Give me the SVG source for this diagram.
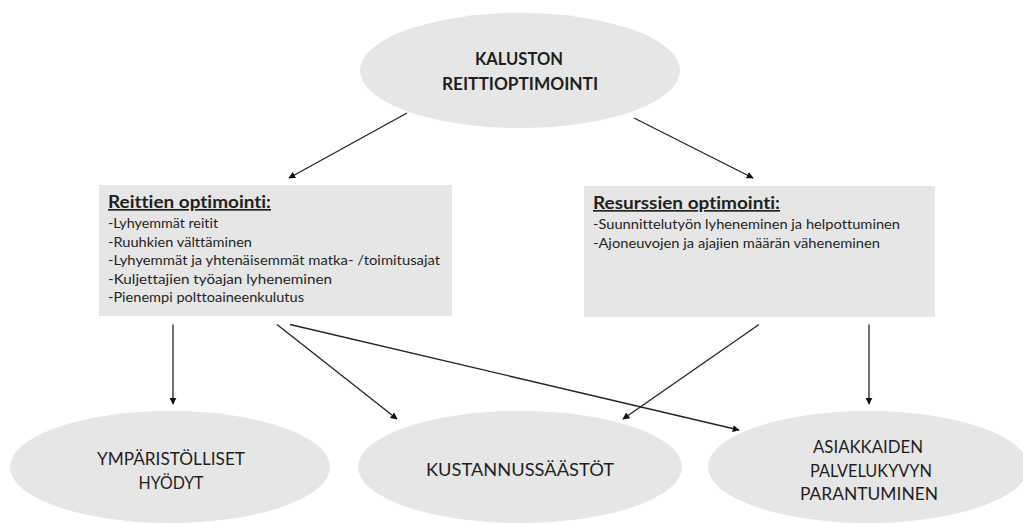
<svg xmlns="http://www.w3.org/2000/svg" width="1023" height="523" viewBox="0 0 1023 523">
<style>
.shape{fill:#e6e6e6;stroke:none}
.t{font-family:Lato,"Open Sans","Liberation Sans",sans-serif;fill:#1f1f1f;font-variant-ligatures:none}
.big{font-size:17px;text-anchor:middle}
.bold{font-weight:bold;font-size:16.5px}
.head{font-size:16.5px;font-weight:bold;text-decoration:underline}
.item{font-size:13px}
.conn line{stroke:#222;stroke-width:1.3;marker-end:url(#ah)}
</style>
<defs>
<marker id="ah" viewBox="0 0 10 10" refX="9" refY="5" markerWidth="7" markerHeight="7" markerUnits="userSpaceOnUse" orient="auto">
<path d="M0,0 L10,5 L0,10 z" fill="#111"/>
</marker>
</defs>
<rect width="1023" height="523" fill="#fff"/>

<g id="node-top">
<ellipse class="shape" cx="520" cy="70.5" rx="160" ry="57.5"/>
<text class="t big bold" x="519" y="65" textLength="88" lengthAdjust="spacingAndGlyphs">KALUSTON</text>
<text class="t big bold" x="520" y="90" textLength="156" lengthAdjust="spacingAndGlyphs">REITTIOPTIMOINTI</text>
</g>

<g id="node-reittien">
<rect class="shape" x="99" y="185" width="353" height="131"/>
<text class="t head" x="108" y="208" textLength="163" lengthAdjust="spacingAndGlyphs">Reittien optimointi:</text>
<text class="t item" x="108" y="228" textLength="110" lengthAdjust="spacingAndGlyphs">-Lyhyemmät  reitit</text>
<text class="t item" x="108" y="246.5" textLength="144" lengthAdjust="spacingAndGlyphs">-Ruuhkien  välttäminen</text>
<text class="t item" x="108" y="265" textLength="332" lengthAdjust="spacingAndGlyphs">-Lyhyemmät  ja yhtenäisemmät  matka- /toimitusajat</text>
<text class="t item" x="108" y="283.5" textLength="224" lengthAdjust="spacingAndGlyphs">-Kuljettajien työajan lyheneminen</text>
<text class="t item" x="108" y="302" textLength="196" lengthAdjust="spacingAndGlyphs">-Pienempi  polttoaineenkulutus</text>
</g>

<g id="node-resurssien">
<rect class="shape" x="584" y="186" width="351" height="131"/>
<text class="t head" x="593" y="209" textLength="187" lengthAdjust="spacingAndGlyphs">Resurssien optimointi:</text>
<text class="t item" x="593" y="229" textLength="307" lengthAdjust="spacingAndGlyphs">-Suunnittelutyön  lyheneminen  ja helpottuminen</text>
<text class="t item" x="593" y="247.5" textLength="287" lengthAdjust="spacingAndGlyphs">-Ajoneuvojen  ja ajajien  määrän  väheneminen</text>
</g>

<g id="node-ymparisto">
<ellipse class="shape" cx="170" cy="467" rx="160" ry="56"/>
<text class="t big" x="171" y="465" textLength="148" lengthAdjust="spacingAndGlyphs">YMPÄRISTÖLLISET</text>
<text class="t big" x="171" y="489" textLength="65" lengthAdjust="spacingAndGlyphs">HYÖDYT</text>
</g>

<g id="node-kustannus">
<ellipse class="shape" cx="520" cy="467" rx="162" ry="56"/>
<text class="t big" x="520" y="476" textLength="188" lengthAdjust="spacingAndGlyphs">KUSTANNUSSÄÄSTÖT</text>
</g>

<g id="node-asiakkaat">
<ellipse class="shape" cx="868" cy="467" rx="160" ry="56"/>
<text class="t big" x="868" y="453" textLength="110" lengthAdjust="spacingAndGlyphs">ASIAKKAIDEN</text>
<text class="t big" x="871" y="477" textLength="122" lengthAdjust="spacingAndGlyphs">PALVELUKYVYN</text>
<text class="t big" x="869" y="500" textLength="138" lengthAdjust="spacingAndGlyphs">PARANTUMINEN</text>
</g>

<g id="connectors" class="conn">
<line x1="407" y1="113" x2="289" y2="178"/>
<line x1="634" y1="118" x2="753" y2="178"/>
<line x1="173" y1="324.5" x2="173" y2="404"/>
<line x1="277" y1="324.5" x2="397" y2="419"/>
<line x1="290" y1="324.5" x2="739" y2="430"/>
<line x1="759" y1="324.5" x2="623" y2="419"/>
<line x1="869" y1="324.5" x2="869" y2="404"/>
</g>
</svg>
